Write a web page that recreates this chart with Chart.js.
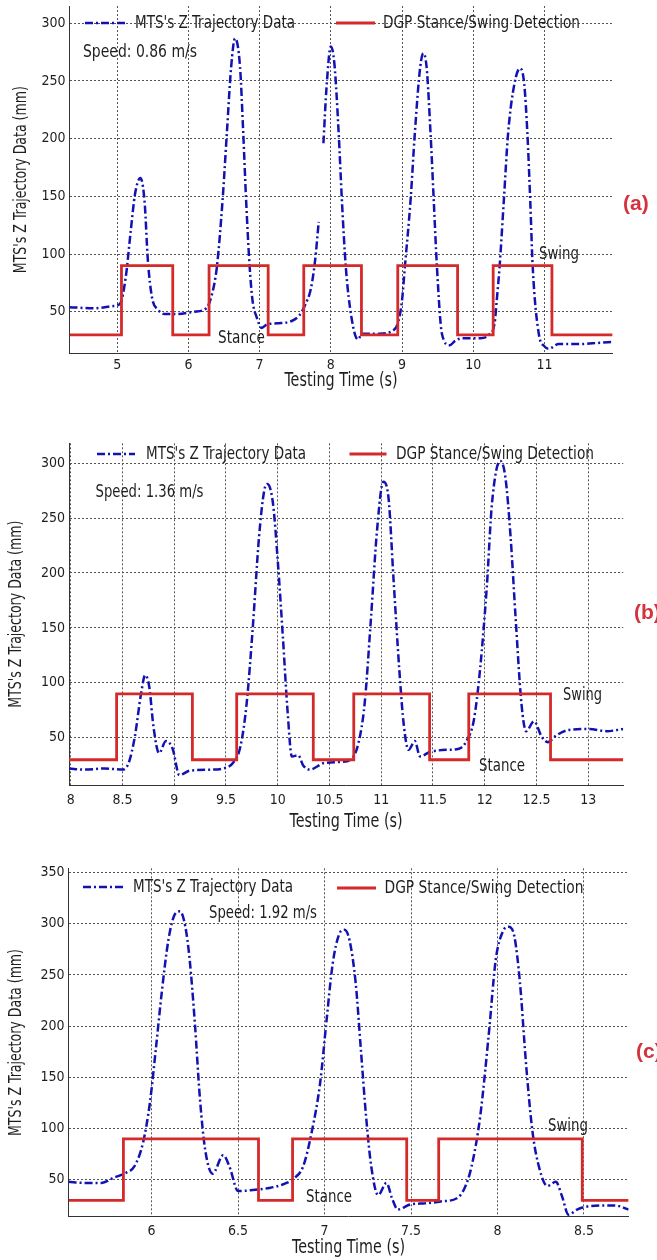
<!DOCTYPE html>
<html>
<head>
<meta charset="utf-8">
<script src="https://cdn.jsdelivr.net/npm/chart.js@4.4.0/dist/chart.umd.min.js"></script>
<style>
  html, body { margin: 0; padding: 0; background: #fff; }
  #wrap { position: relative; width: 657px; height: 1260px; overflow: hidden; }
  .panel { position: absolute; left: 0; width: 657px; }
</style>
</head>
<body>
<div id="wrap">
  <div class="panel" style="top:0px;height:400px"><canvas id="chartA"></canvas></div>
  <div class="panel" style="top:420px;height:420px"><canvas id="chartB"></canvas></div>
  <div class="panel" style="top:850px;height:410px"><canvas id="chartC"></canvas></div>
</div>
<script>
// ---- data ----
// (a) speed 0.86 m/s
const timeA = [4.33, 4.66, 4.95, 5.04, 5.12, 5.19, 5.25, 5.325, 5.385, 5.43,
  5.49, 5.57, 5.66, 5.84, 6.08, 6.25, 6.33, 6.40, 6.48, 6.54,
  6.60, 6.655, 6.725, 6.77, 6.81, 6.86, 6.90, 6.96, 7.03, 7.10,
  7.25, 7.45, 7.56, 7.64, 7.72, 7.78, 7.83, 7.86, 7.896, 7.94,
  8.00, 8.05, 8.11, 8.155, 8.21, 8.29, 8.38, 8.44, 8.68, 8.88,
  8.95, 9.00, 9.04, 9.12, 9.18, 9.255, 9.30, 9.345, 9.40, 9.445,
  9.49, 9.56, 9.67, 9.75, 9.85, 10.10, 10.22, 10.30, 10.33, 10.37,
  10.43, 10.49, 10.58, 10.656, 10.715, 10.76, 10.80, 10.835, 10.92, 11.00,
  11.06, 11.20, 11.50, 11.75, 11.96];
const zA = [54, 53, 55, 57, 80, 120, 152, 166, 145, 95,
  62, 52, 48, 48, 50, 53, 65, 89, 147, 205,
  262, 287, 262, 205, 147, 89, 60, 45, 36, 39,
  40, 42, 47, 56, 70, 95, 128, null, 196, 245,
  280, 265, 205, 147, 89, 45, 26, 31, 31, 34,
  42, 60, 89, 147, 205, 262, 274, 262, 205, 147,
  89, 31, 21, 25, 27, 27, 30, 40, 60, 89,
  147, 205, 248, 261, 248, 205, 147, 89, 31, 20,
  18, 22, 22, 23, 24];
const stepTimeA = [4.33, 5.06, 5.78, 6.29, 7.12, 7.62, 8.43, 8.94, 9.78, 10.28, 11.105, 11.957];
const stepStateA = [30, 90, 30, 90, 30, 90, 30, 90, 30, 90, 30, 30];
const xTicksA = [5, 6, 7, 8, 9, 10, 11];
const yTicksA = [50, 100, 150, 200, 250, 300];

// (b) speed 1.36 m/s
const timeB = [7.985, 8.13, 8.33, 8.50, 8.56, 8.62, 8.68, 8.72, 8.76, 8.80,
  8.855, 8.92, 8.985, 9.05, 9.15, 9.35, 9.47, 9.575, 9.64, 9.70,
  9.76, 9.82, 9.87, 9.90, 9.955, 10.00, 10.05, 10.095, 10.137, 10.20,
  10.245, 10.31, 10.45, 10.61, 10.715, 10.78, 10.84, 10.90, 10.96, 11.02,
  11.07, 11.12, 11.175, 11.22, 11.265, 11.325, 11.375, 11.47, 11.63, 11.75,
  11.83, 11.895, 11.955, 12.02, 12.07, 12.15, 12.20, 12.25, 12.30, 12.355,
  12.40, 12.477, 12.55, 12.61, 12.69, 12.81, 13.01, 13.18, 13.338];
const zB = [22, 21, 22, 21, 27, 51, 90, 107, 96, 60,
  36, 47, 40, 16, 20, 21, 22, 28, 42, 81,
  151, 233, 275, 281, 263, 212, 142, 75, 33, 34,
  25, 21, 27, 28, 31, 45, 81, 157, 239, 283,
  269, 193, 112, 60, 39, 47, 33, 37, 39, 40,
  48, 66, 112, 187, 263, 302, 287, 233, 157, 81,
  56, 65, 51, 46, 52, 57, 58, 56, 58];
const stepTimeB = [7.984, 8.444, 9.176, 9.604, 10.344, 10.735, 11.468, 11.846, 12.636, 13.338];
const stepStateB = [30, 90, 30, 90, 30, 90, 30, 90, 30, 30];
const xTicksB = [8, 8.5, 9, 9.5, 10, 10.5, 11, 11.5, 12, 12.5, 13];
const yTicksB = [50, 100, 150, 200, 250, 300];

// (c) speed 1.92 m/s
const timeC = [5.52, 5.61, 5.71, 5.78, 5.854, 5.90, 5.95, 5.99, 6.024, 6.06,
  6.097, 6.134, 6.165, 6.195, 6.22, 6.25, 6.28, 6.31, 6.353, 6.414,
  6.45, 6.50, 6.584, 6.68, 6.767, 6.828, 6.876, 6.925, 6.974, 7.01,
  7.047, 7.083, 7.115, 7.144, 7.18, 7.21, 7.24, 7.27, 7.31, 7.358,
  7.39, 7.424, 7.497, 7.58, 7.68, 7.765, 7.81, 7.85, 7.90, 7.95,
  7.99, 8.03, 8.064, 8.098, 8.13, 8.166, 8.203, 8.244, 8.288, 8.337,
  8.373, 8.41, 8.46, 8.52, 8.605, 8.678, 8.758];
const zC = [48, 47, 47, 52, 57, 63, 86, 125, 177, 235,
  284, 309, 312, 297, 265, 203, 128, 79, 56, 74,
  63, 39, 40, 42, 46, 52, 63, 96, 144, 203,
  261, 289, 294, 284, 242, 177, 112, 63, 35, 47,
  32, 21, 26, 27, 29, 32, 42, 63, 112, 193,
  265, 292, 297, 287, 242, 161, 96, 60, 44, 48,
  34, 16, 21, 24, 25, 25, 21];
const stepTimeC = [5.52, 5.837, 6.618, 6.815, 7.475, 7.66, 8.49, 8.758];
const stepStateC = [30, 90, 30, 90, 30, 90, 30, 30];
const xTicksC = [6, 6.5, 7, 7.5, 8, 8.5];
const yTicksC = [50, 100, 150, 200, 250, 300, 350];

const seriesNames = ["MTS's Z Trajectory Data", "DGP Stance/Swing Detection"];
const xTitle = 'Testing Time (s)';
const yTitle = "MTS's Z Trajectory Data (mm)";

// ---- styling ----
const FONT = "'Liberation Sans Narrow', 'DejaVu Sans Condensed', 'Arial Narrow', 'Liberation Sans', sans-serif";
const BLUE = '#1212b4';
const RED = '#d42a2a';
const INK = '#1e1e1e';
const DASHDOT = [8, 3, 2, 3];

function pts(xs, ys) {
  return xs.map((x, i) => ({ x: x, y: ys[i] }));
}

// squeeze a string into the width it has in the figure (the original font is tall and condensed)
function fitText(ctx, text, x, y, w, rot) {
  const m = ctx.measureText(text).width;
  ctx.save();
  ctx.translate(x, y);
  if (rot) ctx.rotate(rot);
  ctx.scale(w / m, 1);
  ctx.fillText(text, 0, 0);
  ctx.restore();
}

// legend, axis titles, speed/stance/swing notes and panel letter (canvas pixels)
function decor(d) {
  return {
    id: 'decor_' + d.letter,
    afterDraw(chart) {
      const ctx = chart.ctx;
      const area = chart.chartArea;
      const names = chart.data.datasets.map(ds => ds.label);
      ctx.save();
      ctx.textBaseline = 'middle';
      ctx.lineWidth = 2.5;
      ctx.strokeStyle = BLUE;
      ctx.setLineDash(DASHDOT);
      ctx.beginPath();
      ctx.moveTo(d.blue[0], d.blue[2]);
      ctx.lineTo(d.blue[1], d.blue[2]);
      ctx.stroke();
      ctx.strokeStyle = RED;
      ctx.lineWidth = 2.8;
      ctx.setLineDash([]);
      ctx.beginPath();
      ctx.moveTo(d.red[0], d.red[2]);
      ctx.lineTo(d.red[1], d.red[2]);
      ctx.stroke();

      ctx.fillStyle = INK;
      ctx.textAlign = 'center';
      ctx.font = '20px ' + FONT;
      fitText(ctx, xTitle, (area.left + area.right) / 2, d.xTitleY, 113);
      ctx.font = '17px ' + FONT;
      fitText(ctx, yTitle, d.yTitleX, (area.top + area.bottom) / 2, 187, -Math.PI / 2);

      ctx.textAlign = 'left';
      ctx.font = '18px ' + FONT;
      fitText(ctx, names[0], d.blue[3], d.blue[2], d.blue[4]);
      fitText(ctx, names[1], d.red[3], d.red[2], d.red[4]);
      d.notes.forEach(n => fitText(ctx, n[0], n[1], n[2], n[3]));

      ctx.fillStyle = '#d6323c';
      ctx.font = 'bold 21px "Liberation Sans", "Open Sans", sans-serif';
      ctx.fillText('(' + d.letter + ')', d.letterPos[0], d.letterPos[1]);
      ctx.restore();
    }
  };
}

function makeChart(id, p) {
  const ctx = document.getElementById(id).getContext('2d');
  return new Chart(ctx, {
    type: 'line',
    data: {
      datasets: [
        {
          label: seriesNames[0],
          data: pts(p.time, p.z),
          borderColor: BLUE,
          borderWidth: 2.5,
          borderDash: DASHDOT,
          pointRadius: 0,
          cubicInterpolationMode: 'monotone',
          spanGaps: false,
          order: 1
        },
        {
          label: seriesNames[1],
          data: pts(p.stepTime, p.stepState),
          borderColor: RED,
          borderWidth: 2.8,
          pointRadius: 0,
          stepped: true,
          order: 0
        }
      ]
    },
    options: {
      responsive: true,
      maintainAspectRatio: false,
      animation: false,
      events: [],
      layout: { padding: { left: 0, right: p.padRight, top: p.padTop, bottom: 0 } },
      plugins: { legend: { display: false }, tooltip: { enabled: false } },
      scales: {
        x: {
          type: 'linear',
          min: p.xMin,
          max: p.xMax,
          afterBuildTicks: s => { s.ticks = p.xTicks.map(v => ({ value: v })); },
          afterFit: s => { s.height = p.xHeight; },
          grid: { color: '#555', lineWidth: 1, drawTicks: false },
          border: { display: true, color: '#333', width: 1, dash: [2, 2] },
          ticks: { color: INK, padding: p.xTickPad, font: { family: FONT, size: 14 }, callback: v => String(v) }
        },
        y: {
          min: p.yMin,
          max: p.yMax,
          afterBuildTicks: s => { s.ticks = p.yTicks.map(v => ({ value: v })); },
          afterFit: s => { s.width = p.yWidth; s.paddingTop = 0; s.paddingBottom = 0; },
          grid: { color: '#555', lineWidth: 1, drawTicks: false },
          border: { display: true, color: '#333', width: 1, dash: [2, 2] },
          ticks: { color: INK, padding: 4, font: { family: FONT, size: 14 }, callback: v => String(v) }
        }
      }
    },
    plugins: [decor(p.decor)]
  });
}

makeChart('chartA', {
  time: timeA, z: zA, stepTime: stepTimeA, stepState: stepStateA,
  xTicks: xTicksA, yTicks: yTicksA,
  xMin: 4.33, xMax: 11.957, yMin: 14, yMax: 315,
  padTop: 6, padRight: 44.4, yWidth: 69.5, xHeight: 46.7, xTickPad: 3.5,
  decor: {
    letter: 'a', xTitleY: 380.5, yTitleX: 21.5,
    blue: [85, 125, 23, 135, 160], red: [336, 375, 23, 383, 197],
    notes: [['Speed: 0.86 m/s', 83, 52, 114], ['Stance', 218, 338, 47], ['Swing', 539, 254, 40]],
    letterPos: [623, 204]
  }
});

makeChart('chartB', {
  time: timeB, z: zB, stepTime: stepTimeB, stepState: stepStateB,
  xTicks: xTicksB, yTicks: yTicksB,
  xMin: 7.984, xMax: 13.338, yMin: 7, yMax: 318,
  padTop: 23.3, padRight: 33.8, yWidth: 69, xHeight: 55, xTickPad: 6.5,
  decor: {
    letter: 'b', xTitleY: 401.7, yTitleX: 17,
    blue: [97, 135, 34, 146, 160], red: [349.5, 386.5, 34, 396, 198],
    notes: [['Speed: 1.36 m/s', 95.5, 72, 108], ['Stance', 479, 346, 46], ['Swing', 563, 275, 39]],
    letterPos: [634, 193]
  }
});

makeChart('chartC', {
  time: timeC, z: zC, stepTime: stepTimeC, stepState: stepStateC,
  xTicks: xTicksC, yTicks: yTicksC,
  xMin: 5.52, xMax: 8.758, yMin: 14, yMax: 354,
  padTop: 18.3, padRight: 28.4, yWidth: 68.6, xHeight: 43.3, xTickPad: 6.5,
  decor: {
    letter: 'c', xTitleY: 398, yTitleX: 17,
    blue: [83, 123, 37, 133, 160], red: [337, 376, 38, 384.5, 199],
    notes: [['Speed: 1.92 m/s', 209, 63, 108], ['Stance', 306, 347, 46], ['Swing', 548, 276, 40]],
    letterPos: [636, 202]
  }
});
</script>
</body>
</html>
